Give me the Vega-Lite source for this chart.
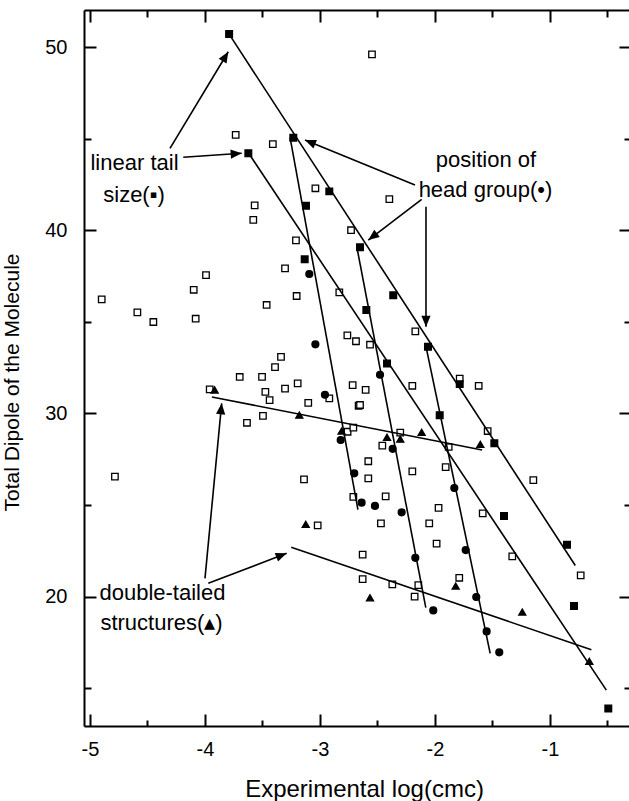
{
  "$schema": "https://vega.github.io/schema/vega-lite/v6.json",
  "width": 545,
  "height": 716,
  "autosize": {"type": "none"},
  "padding": {"left": 84, "top": 10, "right": 0, "bottom": 75},
  "background": "white",
  "config": {"view": {"stroke": null}, "font": "Liberation Sans"},
  "datasets": {
    "pts": [
      {"x": -2.548, "y": 49.6, "g": "open"},
      {"x": -3.733, "y": 45.2, "g": "open"},
      {"x": -3.41, "y": 44.7, "g": "open"},
      {"x": -3.04, "y": 42.29, "g": "open"},
      {"x": -3.568, "y": 41.36, "g": "open"},
      {"x": -3.58, "y": 40.56, "g": "open"},
      {"x": -2.397, "y": 41.7, "g": "open"},
      {"x": -3.209, "y": 39.45, "g": "open"},
      {"x": -2.73, "y": 40.0, "g": "open"},
      {"x": -3.304, "y": 37.92, "g": "open"},
      {"x": -3.991, "y": 37.55, "g": "open"},
      {"x": -4.098, "y": 36.75, "g": "open"},
      {"x": -4.898, "y": 36.23, "g": "open"},
      {"x": -3.203, "y": 36.41, "g": "open"},
      {"x": -2.832, "y": 36.61, "g": "open"},
      {"x": -3.464, "y": 35.92, "g": "open"},
      {"x": -4.588, "y": 35.52, "g": "open"},
      {"x": -4.449, "y": 34.99, "g": "open"},
      {"x": -4.081, "y": 35.17, "g": "open"},
      {"x": -2.762, "y": 34.26, "g": "open"},
      {"x": -2.687, "y": 33.94, "g": "open"},
      {"x": -3.339, "y": 33.09, "g": "open"},
      {"x": -3.391, "y": 32.53, "g": "open"},
      {"x": -3.698, "y": 31.99, "g": "open"},
      {"x": -3.504, "y": 32.0, "g": "open"},
      {"x": -3.475, "y": 31.18, "g": "open"},
      {"x": -3.304, "y": 31.35, "g": "open"},
      {"x": -3.194, "y": 31.64, "g": "open"},
      {"x": -3.438, "y": 30.73, "g": "open"},
      {"x": -2.716, "y": 31.55, "g": "open"},
      {"x": -2.664, "y": 30.42, "g": "open"},
      {"x": -2.919, "y": 30.82, "g": "open"},
      {"x": -3.102, "y": 30.58, "g": "open"},
      {"x": -3.959, "y": 31.31, "g": "open"},
      {"x": -3.496, "y": 29.87, "g": "open"},
      {"x": -3.635, "y": 29.49, "g": "open"},
      {"x": -2.76, "y": 29.0, "g": "open"},
      {"x": -2.71, "y": 29.22, "g": "open"},
      {"x": -4.783, "y": 26.55, "g": "open"},
      {"x": -3.139, "y": 26.4, "g": "open"},
      {"x": -2.171, "y": 34.48, "g": "open"},
      {"x": -2.565, "y": 33.75, "g": "open"},
      {"x": -2.603, "y": 31.29, "g": "open"},
      {"x": -2.197, "y": 31.51, "g": "open"},
      {"x": -1.785, "y": 31.9, "g": "open"},
      {"x": -1.62, "y": 31.51, "g": "open"},
      {"x": -2.652, "y": 30.46, "g": "open"},
      {"x": -1.542, "y": 29.04, "g": "open"},
      {"x": -2.302, "y": 28.95, "g": "open"},
      {"x": -2.458, "y": 28.24, "g": "open"},
      {"x": -1.881, "y": 28.17, "g": "open"},
      {"x": -2.58, "y": 27.39, "g": "open"},
      {"x": -2.197, "y": 26.84, "g": "open"},
      {"x": -1.907, "y": 27.07, "g": "open"},
      {"x": -2.58, "y": 26.46, "g": "open"},
      {"x": -1.145, "y": 26.36, "g": "open"},
      {"x": -2.71, "y": 25.45, "g": "open"},
      {"x": -3.02, "y": 23.89, "g": "open"},
      {"x": -2.429, "y": 25.47, "g": "open"},
      {"x": -1.969, "y": 24.85, "g": "open"},
      {"x": -2.47, "y": 24.0, "g": "open"},
      {"x": -2.05, "y": 24.0, "g": "open"},
      {"x": -1.585, "y": 24.55, "g": "open"},
      {"x": -1.986, "y": 22.89, "g": "open"},
      {"x": -2.629, "y": 22.29, "g": "open"},
      {"x": -1.328, "y": 22.2, "g": "open"},
      {"x": -0.733, "y": 21.16, "g": "open"},
      {"x": -2.629, "y": 20.96, "g": "open"},
      {"x": -2.371, "y": 20.67, "g": "open"},
      {"x": -2.145, "y": 20.63, "g": "open"},
      {"x": -1.789, "y": 21.03, "g": "open"},
      {"x": -2.177, "y": 20.0, "g": "open"},
      {"x": -3.79, "y": 50.71, "g": "square"},
      {"x": -3.232, "y": 45.05, "g": "square"},
      {"x": -3.623, "y": 44.2, "g": "square"},
      {"x": -2.919, "y": 42.12, "g": "square"},
      {"x": -3.122, "y": 41.34, "g": "square"},
      {"x": -2.652, "y": 39.07, "g": "square"},
      {"x": -3.133, "y": 38.41, "g": "square"},
      {"x": -2.363, "y": 36.45, "g": "square"},
      {"x": -2.597, "y": 35.64, "g": "square"},
      {"x": -2.061, "y": 33.64, "g": "square"},
      {"x": -2.417, "y": 32.73, "g": "square"},
      {"x": -1.785, "y": 31.6, "g": "square"},
      {"x": -1.959, "y": 29.9, "g": "square"},
      {"x": -1.484, "y": 28.37, "g": "square"},
      {"x": -1.4, "y": 24.4, "g": "square"},
      {"x": -0.852, "y": 22.83, "g": "square"},
      {"x": -0.791, "y": 19.49, "g": "square"},
      {"x": -0.493, "y": 13.9, "g": "square"},
      {"x": -3.093, "y": 37.61, "g": "circle"},
      {"x": -3.04, "y": 33.77, "g": "circle"},
      {"x": -2.957, "y": 31.02, "g": "circle"},
      {"x": -2.82, "y": 28.55, "g": "circle"},
      {"x": -2.702, "y": 26.73, "g": "circle"},
      {"x": -2.638, "y": 25.13, "g": "circle"},
      {"x": -2.522, "y": 24.95, "g": "circle"},
      {"x": -2.478, "y": 32.11, "g": "circle"},
      {"x": -2.368, "y": 28.07, "g": "circle"},
      {"x": -2.29, "y": 24.6, "g": "circle"},
      {"x": -2.171, "y": 22.12, "g": "circle"},
      {"x": -2.015, "y": 19.25, "g": "circle"},
      {"x": -1.832, "y": 25.93, "g": "circle"},
      {"x": -1.733, "y": 22.54, "g": "circle"},
      {"x": -1.641, "y": 19.98, "g": "circle"},
      {"x": -1.551, "y": 18.1, "g": "circle"},
      {"x": -1.441, "y": 16.96, "g": "circle"},
      {"x": -3.916, "y": 31.28, "g": "triangle"},
      {"x": -3.18, "y": 29.91, "g": "triangle"},
      {"x": -2.812, "y": 29.04, "g": "triangle"},
      {"x": -2.417, "y": 28.7, "g": "triangle"},
      {"x": -2.302, "y": 28.6, "g": "triangle"},
      {"x": -2.116, "y": 28.97, "g": "triangle"},
      {"x": -1.606, "y": 28.31, "g": "triangle"},
      {"x": -3.124, "y": 23.95, "g": "triangle"},
      {"x": -2.565, "y": 19.94, "g": "triangle"},
      {"x": -1.82, "y": 20.58, "g": "triangle"},
      {"x": -1.241, "y": 19.16, "g": "triangle"},
      {"x": -0.658, "y": 16.47, "g": "triangle"}
    ],
    "fits": [
      {"x": -3.79, "y": 50.7, "x2": -0.78, "y2": 21.7},
      {"x": -3.26, "y": 45.05, "x2": -2.67, "y2": 24.75},
      {"x": -3.62, "y": 44.2, "x2": -0.51, "y2": 14.9},
      {"x": -2.68, "y": 39.1, "x2": -2.08, "y2": 19.4},
      {"x": -2.08, "y": 33.7, "x2": -1.52, "y2": 16.9},
      {"x": -3.94, "y": 30.9, "x2": -1.59, "y2": 28.0},
      {"x": -3.25, "y": 22.7, "x2": -0.64, "y2": 17.1}
    ],
    "arrows": [
      {"id": 1, "x": -4.3043, "y": 44.471, "x2": -3.7974, "y2": 49.743},
      {"id": 2, "x": -4.1887, "y": 43.979, "x2": -3.6809, "y2": 44.198},
      {"id": 3, "x": -2.174, "y": 42.467, "x2": -3.1304, "y2": 44.924},
      {"id": 4, "x": -2.1157, "y": 41.687, "x2": -2.58, "y2": 39.465},
      {"id": 5, "x": -2.0783, "y": 41.283, "x2": -2.0783, "y2": 34.732},
      {"id": 6, "x": -4.0, "y": 21.0, "x2": -3.8548, "y2": 30.551},
      {"id": 7, "x": -3.9713, "y": 20.726, "x2": -3.2896, "y2": 22.364}
    ],
    "notes": [
      {"x": -4.613, "y": 43.67, "label": "linear tail"},
      {"x": -4.617, "y": 41.92, "label": "size(▪)"},
      {"x": -1.557, "y": 43.83, "label": "position of"},
      {"x": -1.561, "y": 42.19, "label": "head group(•)"},
      {"x": -4.37, "y": 20.2, "label": "double-tailed"},
      {"x": -4.378, "y": 18.56, "label": "structures(▴)"}
    ]
  },
  "resolve": {"axis": {"x": "independent", "y": "independent"}},
  "layer": [
    {
      "data": {"name": "pts"},
      "mark": {"type": "point", "filled": true, "stroke": "black", "strokeWidth": 1.3, "opacity": 1},
      "encoding": {
        "x": {"field": "x", "type": "quantitative",
          "scale": {"domain": [-5.052, -0.313], "nice": false, "zero": false},
          "axis": {
            "orient": "bottom",
            "values": [-5, -4.5, -4, -3.5, -3, -2.5, -2, -1.5, -1, -0.5],
            "labelExpr": "datum.value % 1 === 0 ? toString(datum.value) : ''",
            "tickSize": {"condition": {"test": "datum.value % 1 === 0", "value": -12}, "value": -6},
            "tickWidth": 2, "tickColor": "black",
            "domainColor": "black", "domainWidth": 2,
            "labelFontSize": 20, "labelColor": "black", "labelPadding": 25,
            "labelFlush": false, "labelOverlap": false, "labelBound": false,
            "grid": false,
            "title": "Experimental log(cmc)", "titleFontSize": 24, "titleFontWeight": "normal",
            "titleColor": "black", "titleX": 280, "titleY": 63, "titleBaseline": "middle"
          }},
        "y": {"field": "y", "type": "quantitative",
          "scale": {"domain": [12.94, 52.02], "nice": false, "zero": false},
          "axis": {
            "orient": "left",
            "values": [15, 20, 25, 30, 35, 40, 45, 50],
            "labelExpr": "datum.value % 10 === 0 ? toString(datum.value) : ''",
            "tickSize": {"condition": {"test": "datum.value % 10 === 0", "value": -12}, "value": -7},
            "tickWidth": 2, "tickColor": "black",
            "domainColor": "black", "domainWidth": 2,
            "labelFontSize": 20, "labelColor": "black", "labelPadding": 29,
            "labelFlush": false, "labelOverlap": false, "labelBound": false,
            "grid": false,
            "title": "Total Dipole of the Molecule", "titleFontSize": 21, "titleFontWeight": "normal",
            "titleColor": "black", "titleX": -72, "titleY": 372, "titleBaseline": "middle", "titleAngle": -90
          }},
        "shape": {"field": "g", "type": "nominal",
          "scale": {"domain": ["open", "square", "circle", "triangle"], "range": ["square", "square", "circle", "triangle-up"]},
          "legend": null},
        "fill": {"field": "g", "type": "nominal",
          "scale": {"domain": ["open", "square", "circle", "triangle"], "range": ["white", "black", "black", "black"]},
          "legend": null},
        "size": {"field": "g", "type": "nominal",
          "scale": {"domain": ["open", "square", "circle", "triangle"], "range": [42, 50, 50, 72]},
          "legend": null}
      }
    },
    {
      "data": {"name": "fits"},
      "mark": {"type": "rule", "color": "black", "strokeWidth": 1.6},
      "encoding": {
        "x": {"field": "x", "type": "quantitative",
          "scale": {"domain": [-5.052, -0.313], "nice": false, "zero": false},
          "axis": {
            "orient": "top",
            "values": [-5, -4.5, -4, -3.5, -3, -2.5, -2, -1.5, -1, -0.5],
            "labels": false,
            "tickSize": {"condition": {"test": "datum.value % 1 === 0", "value": -12}, "value": -7},
            "tickWidth": 2, "tickColor": "black",
            "domainColor": "black", "domainWidth": 2,
            "grid": false, "title": null
          }},
        "y": {"field": "y", "type": "quantitative",
          "scale": {"domain": [12.94, 52.02], "nice": false, "zero": false},
          "axis": {
            "orient": "right",
            "values": [15, 20, 25, 30, 35, 40, 45, 50],
            "labels": false,
            "tickSize": {"condition": {"test": "datum.value % 10 === 0", "value": -10}, "value": -5},
            "tickWidth": 2, "tickColor": "black",
            "domain": false,
            "grid": false, "title": null
          }},
        "x2": {"field": "x2"},
        "y2": {"field": "y2"}
      }
    },
    {
      "data": {"name": "arrows"},
      "mark": {"type": "rule", "color": "black", "strokeWidth": 1.6},
      "encoding": {
        "x": {"field": "x", "type": "quantitative", "scale": {"domain": [-5.052, -0.313], "nice": false, "zero": false}, "axis": null},
        "y": {"field": "y", "type": "quantitative", "scale": {"domain": [12.94, 52.02], "nice": false, "zero": false}, "axis": null},
        "x2": {"field": "x2"},
        "y2": {"field": "y2"}
      }
    },
    {
      "data": {"name": "arrows"},
      "transform": [{"filter": "datum.id === 1"}],
      "mark": {"type": "point", "shape": "M0,0L0.42,1L-0.42,1Z", "filled": true, "color": "black", "opacity": 1, "size": 484, "angle": 31.1},
      "encoding": {
        "x": {"field": "x2", "type": "quantitative", "scale": {"domain": [-5.052, -0.313], "nice": false, "zero": false}, "axis": null},
        "y": {"field": "y2", "type": "quantitative", "scale": {"domain": [12.94, 52.02], "nice": false, "zero": false}, "axis": null}
      }
    },
    {
      "data": {"name": "arrows"},
      "transform": [{"filter": "datum.id === 2"}],
      "mark": {"type": "point", "shape": "M0,0L0.42,1L-0.42,1Z", "filled": true, "color": "black", "opacity": 1, "size": 484, "angle": 86.1},
      "encoding": {
        "x": {"field": "x2", "type": "quantitative", "scale": {"domain": [-5.052, -0.313], "nice": false, "zero": false}, "axis": null},
        "y": {"field": "y2", "type": "quantitative", "scale": {"domain": [12.94, 52.02], "nice": false, "zero": false}, "axis": null}
      }
    },
    {
      "data": {"name": "arrows"},
      "transform": [{"filter": "datum.id === 3"}],
      "mark": {"type": "point", "shape": "M0,0L0.42,1L-0.42,1Z", "filled": true, "color": "black", "opacity": 1, "size": 484, "angle": 292.25},
      "encoding": {
        "x": {"field": "x2", "type": "quantitative", "scale": {"domain": [-5.052, -0.313], "nice": false, "zero": false}, "axis": null},
        "y": {"field": "y2", "type": "quantitative", "scale": {"domain": [12.94, 52.02], "nice": false, "zero": false}, "axis": null}
      }
    },
    {
      "data": {"name": "arrows"},
      "transform": [{"filter": "datum.id === 4"}],
      "mark": {"type": "point", "shape": "M0,0L0.42,1L-0.42,1Z", "filled": true, "color": "black", "opacity": 1, "size": 484, "angle": 232.7},
      "encoding": {
        "x": {"field": "x2", "type": "quantitative", "scale": {"domain": [-5.052, -0.313], "nice": false, "zero": false}, "axis": null},
        "y": {"field": "y2", "type": "quantitative", "scale": {"domain": [12.94, 52.02], "nice": false, "zero": false}, "axis": null}
      }
    },
    {
      "data": {"name": "arrows"},
      "transform": [{"filter": "datum.id === 5"}],
      "mark": {"type": "point", "shape": "M0,0L0.42,1L-0.42,1Z", "filled": true, "color": "black", "opacity": 1, "size": 484, "angle": 180},
      "encoding": {
        "x": {"field": "x2", "type": "quantitative", "scale": {"domain": [-5.052, -0.313], "nice": false, "zero": false}, "axis": null},
        "y": {"field": "y2", "type": "quantitative", "scale": {"domain": [12.94, 52.02], "nice": false, "zero": false}, "axis": null}
      }
    },
    {
      "data": {"name": "arrows"},
      "transform": [{"filter": "datum.id === 6"}],
      "mark": {"type": "point", "shape": "M0,0L0.42,1L-0.42,1Z", "filled": true, "color": "black", "opacity": 1, "size": 484, "angle": 5.45},
      "encoding": {
        "x": {"field": "x2", "type": "quantitative", "scale": {"domain": [-5.052, -0.313], "nice": false, "zero": false}, "axis": null},
        "y": {"field": "y2", "type": "quantitative", "scale": {"domain": [12.94, 52.02], "nice": false, "zero": false}, "axis": null}
      }
    },
    {
      "data": {"name": "arrows"},
      "transform": [{"filter": "datum.id === 7"}],
      "mark": {"type": "point", "shape": "M0,0L0.42,1L-0.42,1Z", "filled": true, "color": "black", "opacity": 1, "size": 484, "angle": 69.06},
      "encoding": {
        "x": {"field": "x2", "type": "quantitative", "scale": {"domain": [-5.052, -0.313], "nice": false, "zero": false}, "axis": null},
        "y": {"field": "y2", "type": "quantitative", "scale": {"domain": [12.94, 52.02], "nice": false, "zero": false}, "axis": null}
      }
    },
    {
      "data": {"name": "notes"},
      "mark": {"type": "text", "fontSize": 22, "color": "black", "align": "center", "baseline": "middle", "font": "Liberation Sans"},
      "encoding": {
        "x": {"field": "x", "type": "quantitative", "scale": {"domain": [-5.052, -0.313], "nice": false, "zero": false}, "axis": null},
        "y": {"field": "y", "type": "quantitative", "scale": {"domain": [12.94, 52.02], "nice": false, "zero": false}, "axis": null},
        "text": {"field": "label"}
      }
    }
  ]
}
